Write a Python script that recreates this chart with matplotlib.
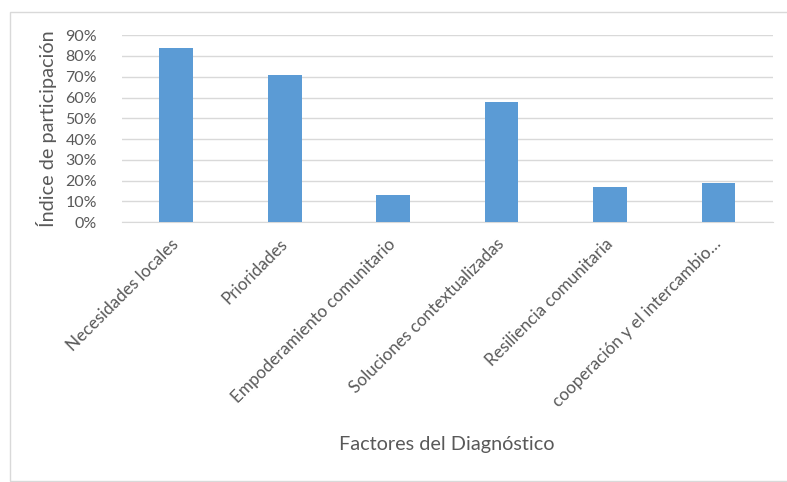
import matplotlib.pyplot as plt
from matplotlib.ticker import PercentFormatter
from matplotlib.patches import Rectangle

# Data
factores = ["Necesidades locales", "Prioridades", "Empoderamiento comunitario",
            "Soluciones contextualizadas", "Resiliencia comunitaria",
            "cooperación y el intercambio…"]
indice = [0.84, 0.71, 0.13, 0.58, 0.17, 0.19]
yticks = [0, 0.1, 0.2, 0.3, 0.4, 0.5, 0.6, 0.7, 0.8, 0.9]

plt.rcParams['font.family'] = ['Lato', 'DejaVu Sans']
txt = '#595959'

fig = plt.figure(figsize=(7.87, 4.82), dpi=100)
ax = fig.add_axes([0.155, 0.539, 0.827, 0.388])

x = range(len(factores))
ax.bar(x, indice, width=0.31, color='#5B9BD5', zorder=3)

ax.set_xlim(-0.5, len(factores) - 0.5)
ax.set_ylim(0, 0.9)
ax.set_yticks(yticks)
ax.yaxis.set_major_formatter(PercentFormatter(1.0, decimals=0))
ax.grid(axis='y', color='#D9D9D9', linewidth=1, zorder=0)

for s in ['top', 'right', 'left']:
    ax.spines[s].set_visible(False)
ax.spines['bottom'].set_color('#D9D9D9')

ax.set_xticks(list(x))
ax.set_xticklabels(factores, rotation=45, ha='right', va='center',
                   rotation_mode='anchor', fontsize=12.3, color=txt)
ax.tick_params(axis='both', length=0, colors=txt)
ax.tick_params(axis='y', labelsize=11.5, pad=18)
ax.tick_params(axis='x', pad=14)

ax.set_ylabel("Índice de participación", fontsize=14.3, color=txt, labelpad=6)
fig.text(0.568, 0.077, "Factores del Diagnóstico", fontsize=14.3, color=txt,
         ha='center', va='center')

# light frame around the chart
fig.patches.append(Rectangle((10 / 787, 1 / 482), 1.0, 469 / 482,
                             transform=fig.transFigure, fill=False,
                             edgecolor='#D9D9D9', linewidth=1))

plt.savefig("out.png", dpi=100)
